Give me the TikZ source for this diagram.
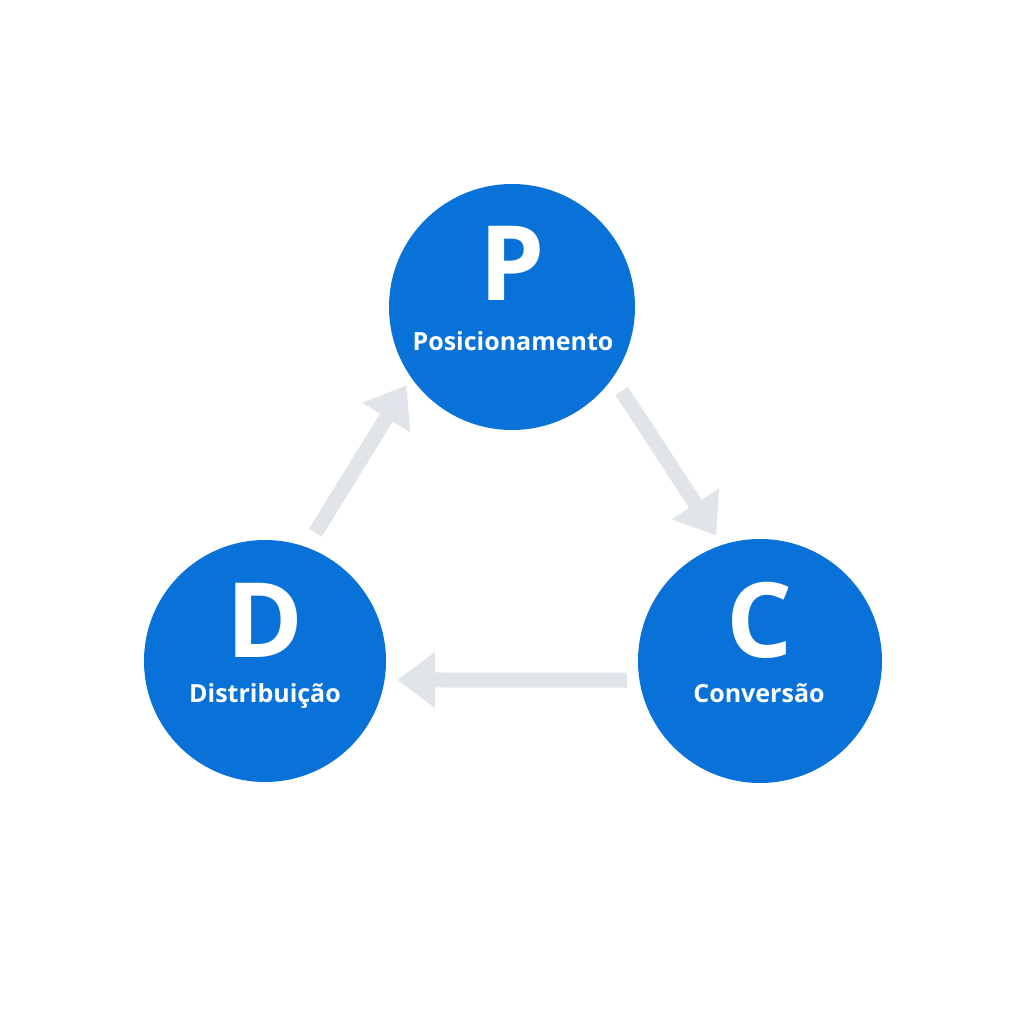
\documentclass[tikz,border=0pt]{standalone}
\usepackage{fontspec}
\setmainfont{Open Sans}
\usetikzlibrary{arrows.meta}
\definecolor{bluec}{HTML}{0972D8}
\definecolor{arrowg}{HTML}{E1E4E8}
\tikzset{
  circ/.style={circle, fill=bluec, inner sep=0pt},
  bigletter/.style={text=white, font=\fontsize{104}{104}\selectfont\bfseries, anchor=base, inner sep=0pt},
  lab/.style={text=white, font=\fontsize{25}{25}\selectfont\bfseries, anchor=base, inner sep=0pt},
  flow/.style={draw=arrowg, line width=15pt, -{Triangle[width=54pt,length=38pt]}}
}
\begin{document}
\begin{tikzpicture}[x=1pt,y=-1pt]
\useasboundingbox (0,0) rectangle (1024,1024);
\node[circ, minimum size=246pt] (P) at (512,307) {};
\node[circ, minimum size=242pt] (D) at (265,661) {};
\node[circ, minimum size=244pt] (C) at (760,661) {};
\node[bigletter] (Pt) at (512,300) {P};
\node[lab] (Pl) at (513,350) {Posicionamento};
\node[bigletter] (Dt) at (265,657) {D};
\node[lab] (Dl) at (265,702) {Distribuição};
\node[bigletter] (Ct) at (760,657) {C};
\node[lab] (Cl) at (759,702) {Conversão};
\draw[flow, shorten <=17pt, shorten >=9pt] (D.70.5) -- (P.215.1);
\draw[flow, shorten <=16pt, shorten >=11pt] (P.-35.6) -- (C.108.4);
\draw[flow, shorten <=12.5pt, shorten >=12.5pt] (C.189.6) -- (D.-9.6);
\end{tikzpicture}
\end{document}
